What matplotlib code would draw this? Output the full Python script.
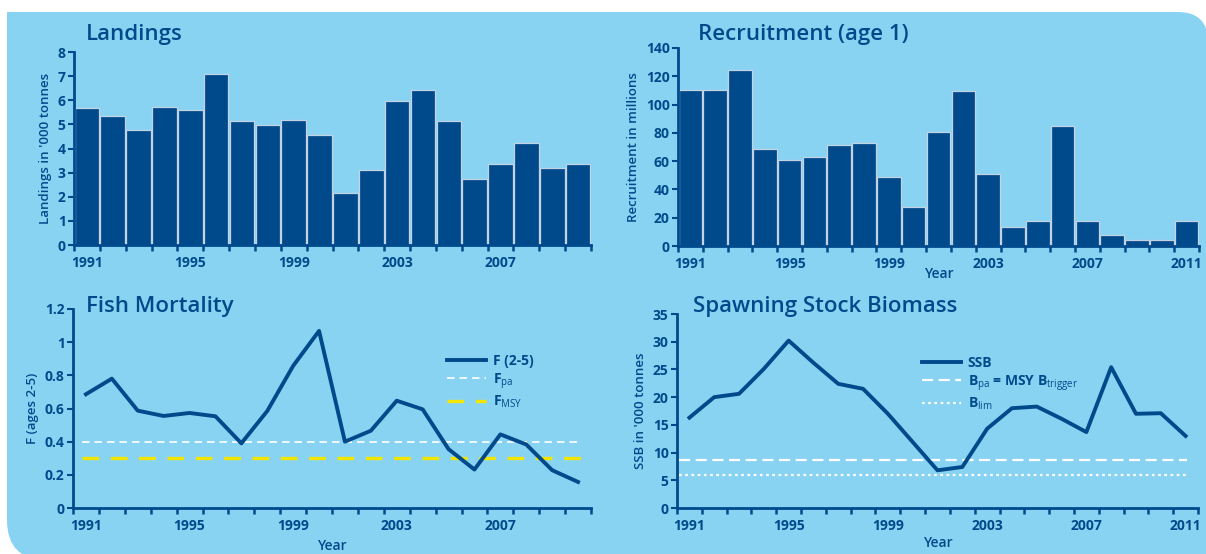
import matplotlib.pyplot as plt
import numpy as np
from matplotlib.path import Path
import matplotlib.patches as mpatches
from matplotlib.transforms import Affine2D

plt.rcParams['font.family'] = ['Open Sans', 'DejaVu Sans']
plt.rcParams['mathtext.fontset'] = 'custom'
plt.rcParams['mathtext.rm'] = 'Open Sans'

navy = '#004a8c'
panel_blue = '#89d3f2'

# data
years_land = list(range(1991, 2011))
landings = [5.66, 5.33, 4.78, 5.72, 5.59, 7.07, 5.16, 4.97, 5.20, 4.54,
            2.15, 3.10, 5.97, 6.44, 5.16, 2.75, 3.34, 4.21, 3.21, 3.36]

years_rec = list(range(1991, 2012))
recruitment = [110.5, 110, 124.2, 68.9, 61.1, 62.6, 71.5, 72.9, 48.9, 27.9,
               80.5, 109.3, 51.2, 13.7, 17.9, 84.5, 17.9, 7.8, 4.0, 4.2, 17.9]

years_f = list(range(1991, 2011))
f_25 = [0.686, 0.78, 0.587, 0.555, 0.573, 0.553, 0.39, 0.585, 0.857, 1.068,
        0.40, 0.466, 0.647, 0.595, 0.355, 0.232, 0.444, 0.383, 0.228, 0.157]
f_pa = 0.4
f_msy = 0.3

years_ssb = list(range(1991, 2012))
ssb = [16.3, 20.0, 20.6, 25.1, 30.2, 26.2, 22.4, 21.5, 17.0, 11.9,
       6.8, 7.4, 14.3, 18.0, 18.3, 16.1, 13.7, 25.4, 17.0, 17.1, 13.0]
b_pa = 8.75
b_lim = 5.9

label_years_land = [1991, 1995, 1999, 2003, 2007]
label_years_rec = [1991, 1995, 1999, 2003, 2007, 2011]

W, H = 1206, 554
dpi = 100
fig = plt.figure(dpi=dpi, figsize=(W / dpi, H / dpi))
fig.patch.set_facecolor('white')

# light blue panel with two rounded corners (pixel coords, y up)
left, top, right, bottom = 7, H - 12, W + 2, -6
r1, r2 = 30, 40
verts = [(left, top), (right - r1, top), (right, top), (right, top - r1),
         (right, bottom), (left + r2, bottom), (left, bottom), (left, bottom + r2),
         (left, top)]
codes = [Path.MOVETO, Path.LINETO, Path.CURVE3, Path.CURVE3,
         Path.LINETO, Path.LINETO, Path.CURVE3, Path.CURVE3, Path.CLOSEPOLY]
panel = mpatches.PathPatch(Path(verts, codes), facecolor=panel_blue, edgecolor='none',
                           transform=Affine2D().scale(1 / dpi) + fig.dpi_scale_trans,
                           zorder=-10)
fig.patches.append(panel)


def add_ax(l, t, r, b):
    return fig.add_axes([l / W, 1 - b / H, (r - l) / W, (b - t) / H])


def style(ax, years, label_years):
    n = len(years)
    ax.set_facecolor('none')
    for s in ['top', 'right']:
        ax.spines[s].set_visible(False)
    for s in ['left', 'bottom']:
        ax.spines[s].set_color(navy)
        ax.spines[s].set_linewidth(2)
    ax.set_xlim(-0.5, n - 0.5)
    ax.set_xticks(np.arange(n + 1) - 0.5)
    ax.set_xticklabels([])
    ax.tick_params(axis='x', which='major', length=4.5, width=1.8, color=navy)
    ax.set_xticks([years.index(y) for y in label_years], minor=True)
    ax.set_xticklabels([str(y) for y in label_years], minor=True)
    ax.tick_params(axis='x', which='minor', length=0, pad=8, labelsize=10,
                   labelcolor=navy)
    ax.tick_params(axis='y', length=4, width=1.5, color=navy, labelcolor=navy,
                   labelsize=10, pad=2)
    for t in ax.get_xticklabels(minor=True) + ax.get_yticklabels():
        t.set_fontweight('bold')


def title(x, y, s):
    fig.text(x / W, 1 - y / H, s, fontsize=16, color=navy, fontweight='semibold',
             va='baseline', ha='left')


def legend(ax, x, y):
    h, l = ax.get_legend_handles_labels()
    order = [2, 0, 1]
    leg = ax.legend([h[i] for i in order], [l[i] for i in order], loc='upper left',
                    bbox_to_anchor=(x / W, 1 - y / H), bbox_transform=fig.transFigure,
                    frameon=False, handlelength=2.8, handletextpad=0.5,
                    labelspacing=0.22, borderpad=0, borderaxespad=0,
                    prop={'size': 10, 'weight': 'bold'})
    for t in leg.get_texts():
        t.set_color(navy)


# Landings
ax1 = add_ax(74, 52, 591, 245)
ax1.bar(range(len(years_land)), landings, width=0.95, color=navy,
        edgecolor='#c3d3e3', linewidth=0.9)
ax1.set_ylim(0, 8)
ax1.set_yticks(range(0, 9))
style(ax1, years_land, label_years_land)
ax1.set_ylabel("Landings in '000 tonnes", fontsize=9.5, color=navy,
               fontweight='semibold', labelpad=4)
title(86, 40, 'Landings')

# Recruitment
ax2 = add_ax(678, 48, 1199, 246)
ax2.bar(range(len(years_rec)), recruitment, width=0.95, color=navy,
        edgecolor='#c3d3e3', linewidth=0.9)
ax2.set_ylim(0, 140)
ax2.set_yticks(range(0, 141, 20))
style(ax2, years_rec, label_years_rec)
ax2.set_ylabel('Recruitment in millions', fontsize=9.5, color=navy,
               fontweight='semibold', labelpad=4)
ax2.set_xlabel('Year', fontsize=10, color=navy, fontweight='semibold', labelpad=-3)
title(698, 40, 'Recruitment (age 1)')

# Fish mortality
ax3 = add_ax(73, 309, 591, 508)
xf = np.arange(len(years_f))
ax3.hlines(f_pa, -0.15, len(years_f) - 0.9, colors='white', linewidth=1.2,
           linestyles=(0, (4.5, 3)), label=r'F$_{\rm pa}$')
ax3.hlines(f_msy, -0.15, len(years_f) - 0.9, colors='#f2e600', linewidth=2.4,
           linestyles=(0, (5, 3.5)), label=r'F$_{\rm MSY}$')
ax3.plot(xf, f_25, color=navy, linewidth=2.8, label='F (2-5)')
ax3.set_ylim(0, 1.2)
ax3.set_yticks([0, 0.2, 0.4, 0.6, 0.8, 1.0, 1.2])
ax3.set_yticklabels(['0', '0.2', '0.4', '0.6', '0.8', '1', '1.2'])
style(ax3, years_f, label_years_land)
ax3.set_ylabel('F (ages 2-5)', fontsize=9.5, color=navy, fontweight='semibold',
               labelpad=4)
ax3.set_xlabel('Year', fontsize=10, color=navy, fontweight='semibold', labelpad=4)
title(86, 312, 'Fish Mortality')
legend(ax3, 447, 354)

# Spawning stock biomass
ax4 = add_ax(677, 314, 1198, 508)
xs = np.arange(len(years_ssb))
ax4.hlines(b_pa, -0.4, len(years_ssb) - 0.95, colors='white', linewidth=1.6,
           linestyles=(0, (5, 2.5)), label=r'B$_{\rm pa}$ = MSY B$_{\rm trigger}$')
ax4.hlines(b_lim, -0.4, len(years_ssb) - 0.95, colors='white', linewidth=1.6,
           linestyles=(0, (1.2, 1.6)), label=r'B$_{\rm lim}$')
ax4.plot(xs, ssb, color=navy, linewidth=2.8, label='SSB')
ax4.set_ylim(0, 35)
ax4.set_yticks(range(0, 36, 5))
style(ax4, years_ssb, label_years_rec)
ax4.set_ylabel("SSB in '000 tonnes", fontsize=9.5, color=navy, fontweight='semibold',
               labelpad=4)
ax4.set_xlabel('Year', fontsize=10, color=navy, fontweight='semibold', labelpad=2)
title(693, 312, 'Spawning Stock Biomass')
legend(ax4, 922, 356)

fig.savefig('out.png', dpi=dpi)
